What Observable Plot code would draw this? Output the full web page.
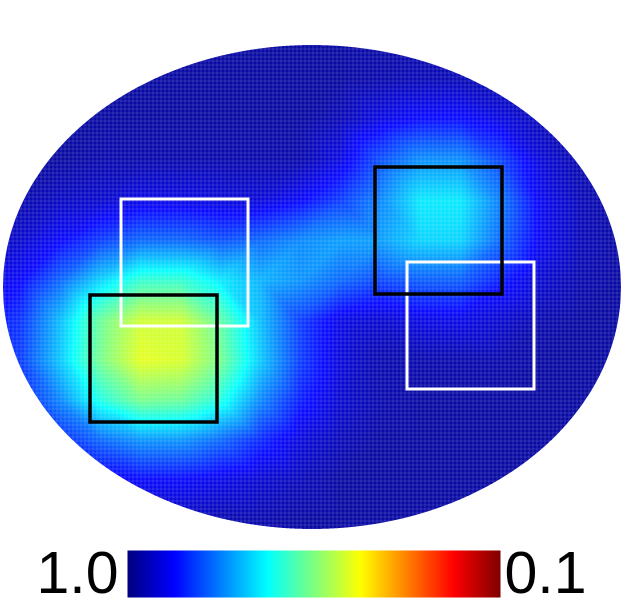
<!DOCTYPE html>
<html><head><meta charset="utf-8">
<script src="https://cdn.jsdelivr.net/npm/d3@7"></script>
<script src="https://cdn.jsdelivr.net/npm/@observablehq/plot@0.6"></script>
<style>
html,body{margin:0;padding:0;background:#fff;overflow:hidden;}
#chart svg{display:block;}
</style></head><body><div id="chart"></div>
<script>
// Sample grid positions (mm, origin at ellipse centre)
const gridX = [-332,-292,-252,-212,-172,-132,-92,-52,-12,28,68,108,148,188,228,268,308,348];
const gridY = [287,247,207,167,127,87,47,7,-33,-73,-113,-153,-193,-233,-273];
// Field values (1.0 = dark blue ... 0.1 = dark red), one row per gridY
const row0  = [0.97,0.97,0.97,0.97,0.97,0.97,0.97,0.97,0.97,0.97,0.97,0.97,0.97,0.97,0.97,0.97,0.97,0.97];
const row1  = [0.97,0.97,0.97,0.97,0.97,0.97,0.97,0.97,0.97,0.97,0.97,0.97,0.97,0.97,0.97,0.97,0.97,0.97];
const row2  = [0.97,0.97,0.97,0.97,0.97,0.97,0.97,0.97,0.97,0.97,0.96,0.95,0.95,0.96,0.97,0.97,0.97,0.97];
const row3  = [0.97,0.97,0.97,0.97,0.97,0.97,0.97,0.97,0.97,0.95,0.91,0.88,0.88,0.91,0.95,0.97,0.97,0.97];
const row4  = [0.97,0.97,0.97,0.96,0.96,0.96,0.96,0.96,0.96,0.91,0.82,0.76,0.76,0.83,0.92,0.96,0.97,0.97];
const row5  = [0.97,0.96,0.94,0.93,0.91,0.91,0.92,0.92,0.89,0.84,0.77,0.68,0.68,0.78,0.90,0.95,0.97,0.97];
const row6  = [0.95,0.93,0.89,0.84,0.80,0.80,0.82,0.80,0.77,0.75,0.75,0.70,0.70,0.80,0.90,0.95,0.97,0.97];
const row7  = [0.92,0.89,0.80,0.70,0.62,0.62,0.68,0.73,0.76,0.80,0.83,0.81,0.81,0.87,0.93,0.96,0.97,0.97];
const row8  = [0.89,0.85,0.72,0.57,0.48,0.48,0.58,0.72,0.84,0.91,0.93,0.91,0.91,0.93,0.96,0.97,0.97,0.97];
const row9  = [0.89,0.84,0.71,0.56,0.46,0.47,0.56,0.71,0.84,0.92,0.96,0.96,0.96,0.96,0.97,0.97,0.97,0.97];
const row10 = [0.91,0.87,0.77,0.64,0.56,0.57,0.64,0.77,0.87,0.93,0.96,0.97,0.97,0.97,0.97,0.97,0.97,0.97];
const row11 = [0.95,0.92,0.86,0.80,0.76,0.76,0.80,0.86,0.92,0.95,0.97,0.97,0.97,0.97,0.97,0.97,0.97,0.97];
const row12 = [0.97,0.95,0.93,0.91,0.89,0.89,0.91,0.93,0.95,0.97,0.97,0.97,0.97,0.97,0.97,0.97,0.97,0.97];
const row13 = [0.97,0.97,0.96,0.96,0.95,0.95,0.96,0.96,0.97,0.97,0.97,0.97,0.97,0.97,0.97,0.97,0.97,0.97];
const row14 = [0.97,0.97,0.97,0.97,0.97,0.97,0.97,0.97,0.97,0.97,0.97,0.97,0.97,0.97,0.97,0.97,0.97,0.97];
const fieldRows = [row0,row1,row2,row3,row4,row5,row6,row7,row8,row9,row10,row11,row12,row13,row14];

// Elliptical domain (mm)
const ellipseA = 309, ellipseB = 242;
// Pitch of the sampling mesh (mm)
const meshPitch = 4;

// Squares: lower-left corner (mm), side, outline colour
const squareX = [-191, 95, -222, 63];
const squareY = [-39, -102, -135, -7];
const squareSide = 127;
const squareColor = ["white", "white", "black", "black"];

// Colour bar labels
const barLabels = ["1.0", "0.1"];
const barDomain = [1.0, 0.1];

// Jet colormap stops
const jetStops = ["#00007f","#0000ff","#007fff","#00ffff","#7fff7f","#ffff00","#ff7f00","#ff0000","#7f0000"];
const colorDomain = jetStops.map((_, i) => barDomain[0] + (barDomain[1] - barDomain[0]) * i / (jetStops.length - 1));
const colorScale = {type: "linear", domain: colorDomain, range: jetStops, clamp: true};

const field = gridY.flatMap((y, i) => gridX.map((x, j) => ({x, y, v: fieldRows[i][j]})));
const squares = squareX.map((x, i) => ({x1: x, x2: x + squareSide, y1: squareY[i], y2: squareY[i] + squareSide, c: squareColor[i]}));

const xDom = [-312, 314], yDom = [-253, 287];
const edgeX = d3.range(xDom[0], xDom[1] + 0.5, 0.5);
const upper = x => Math.abs(x) >= ellipseA ? 0 : ellipseB * Math.sqrt(1 - (x / ellipseA) ** 2);
const meshX = d3.range(xDom[0] + 0.5, xDom[1], meshPitch);
const meshY = d3.range(yDom[1] - 0.5, yDom[0] + 2, -meshPitch);

const main = Plot.plot({
  width: 626, height: 540, margin: 0,
  x: {domain: xDom, axis: null},
  y: {domain: yDom, axis: null},
  color: colorScale,
  marks: [
    Plot.raster(field, {x: "x", y: "y", fill: "v", interpolate: "barycentric", opacity: 0.96}),
    Plot.ruleX(meshX, {stroke: "white", strokeOpacity: 0.14, strokeWidth: 1}),
    Plot.ruleY(meshY, {stroke: "white", strokeOpacity: 0.14, strokeWidth: 1}),
    Plot.areaY(edgeX, {x: d => d, y1: () => yDom[1], y2: d => upper(d), fill: "white"}),
    Plot.areaY(edgeX, {x: d => d, y1: () => yDom[0], y2: d => -upper(d), fill: "white"}),
    Plot.rect(squares.filter(d => d.c === "white"), {x1: "x1", x2: "x2", y1: "y1", y2: "y2", fill: "none", stroke: "white", strokeWidth: 3}),
    Plot.rect(squares.filter(d => d.c === "black"), {x1: "x1", x2: "x2", y1: "y1", y2: "y2", fill: "none", stroke: "black", strokeWidth: 3.5})
  ]
});

const bar = Plot.plot({
  width: 626, height: 64, marginLeft: 127, marginRight: 126, marginTop: 10, marginBottom: 7,
  x: {domain: barDomain, axis: null},
  y: {domain: [0, 1], axis: null},
  color: colorScale,
  marks: [
    Plot.raster({x1: barDomain[0], x2: barDomain[1], y1: 0, y2: 1, fill: (x, y) => x}),
    Plot.text([barLabels[0]], {x: barDomain[0], frameAnchor: "bottom", text: d => d, textAnchor: "end", lineAnchor: "bottom", dx: -9, dy: -5, fontSize: 59, fontFamily: "Liberation Sans, Arial, sans-serif", fill: "black"}),
    Plot.text([barLabels[1]], {x: barDomain[1], frameAnchor: "bottom", text: d => d, textAnchor: "start", lineAnchor: "bottom", dx: 4, dy: -5, fontSize: 59, fontFamily: "Liberation Sans, Arial, sans-serif", fill: "black"})
  ]
});

document.getElementById("chart").append(main, bar);
</script>
</body></html>
